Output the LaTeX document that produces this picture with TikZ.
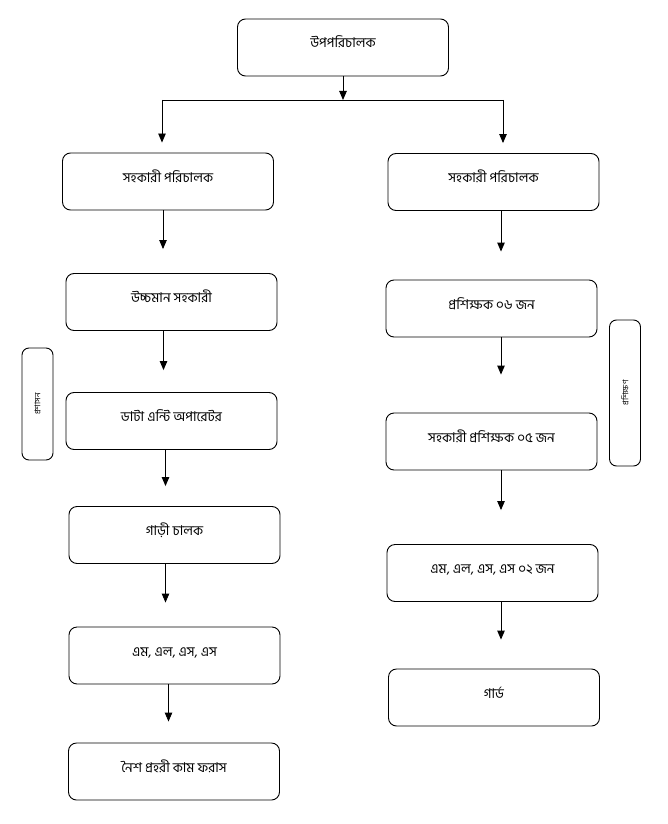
\documentclass[tikz,border=0pt]{standalone}
\usepackage{fontspec}
\newfontfamily\bn[Script=Bengali]{Hind Siliguri}
\usetikzlibrary{arrows.meta}

\begin{document}
\begin{tikzpicture}[x=1pt, y=-1pt, line width=0.9pt,
  every node/.style = {align=center, font=\bn\fontsize{13.5}{16}\selectfont},
  post/.style = {draw, rounded corners=8pt, minimum width=211pt, minimum height=57pt,
    text height=12pt, text depth=11pt},
  side/.style = {draw, rounded corners=7pt, rotate=90, minimum height=31pt,
    font=\bn\fontsize{8}{9}\selectfont},
  arr/.style = {-{Triangle[length=9pt,width=7.5pt]}}]
\useasboundingbox (0,0) rectangle (668,824);

\node[post] (top) at (343,47.5) {উপপরিচালক};

% left column
\node[post] (l1) at (168,181.5) {সহকারী পরিচালক};
\node[post] (l2) at (171.5,302) {উচ্চমান সহকারী};
\node[post] (l3) at (171.5,421) {ডাটা এন্টি অপারেটর};
\node[post] (l4) at (174.5,535) {গাড়ী চালক};
\node[post] (l5) at (174.5,655.5) {এম, এল, এস, এস};
\node[post] (l6) at (174,771.5) {নৈশ প্রহরী কাম ফরাস};

% right column
\node[post] (r1) at (493.5,182) {সহকারী পরিচালক};
\node[post] (r2) at (491.5,308.5) {প্রশিক্ষক ০৬ জন};
\node[post] (r3) at (491.5,441.5) {সহকারী প্রশিক্ষক ০৫ জন};
\node[post] (r4) at (492.5,573) {এম, এল, এস, এস ০২ জন};
\node[post] (r5) at (494,697.5) {গার্ড};

\node[side, minimum width=112pt] (admin) at (37.5,404) {প্রশাসন};
\node[side, minimum width=146pt] (train) at (625,393) {প্রশিক্ষণ};

\coordinate (bl) at (162,100);
\coordinate (br) at (503,100);
\draw[arr] (top.south) -- (top.south |- bl);
\draw (bl) -- (br);
\draw[arr, shorten >=10pt] (bl) -- (bl |- l1.north);
\draw[arr, shorten >=10pt] (br) -- (br |- r1.north);

\draw[arr, shorten >=24pt] ([xshift=-5pt]l1.south) -- ([xshift=-5pt]l1.south |- l2.north);
\draw[arr, shorten >=22pt] ([xshift=-8pt]l2.south) -- ([xshift=-8pt]l2.south |- l3.north);
\draw[arr, shorten >=20pt] ([xshift=-6pt]l3.south) -- ([xshift=-6pt]l3.south |- l4.north);
\draw[arr, shorten >=24pt] ([xshift=-9pt]l4.south) -- ([xshift=-9pt]l4.south |- l5.north);
\draw[arr, shorten >=21pt] ([xshift=-6pt]l5.south) -- ([xshift=-6pt]l5.south |- l6.north);

\draw[arr, shorten >=28pt] ([xshift=7.5pt]r1.south) -- ([xshift=7.5pt]r1.south |- r2.north);
\draw[arr, shorten >=38pt] ([xshift=9.5pt]r2.south) -- ([xshift=9.5pt]r2.south |- r3.north);
\draw[arr, shorten >=34pt] ([xshift=9.5pt]r3.south) -- ([xshift=9.5pt]r3.south |- r4.north);
\draw[arr, shorten >=29pt] ([xshift=8.5pt]r4.south) -- ([xshift=8.5pt]r4.south |- r5.north);
\end{tikzpicture}
\end{document}
